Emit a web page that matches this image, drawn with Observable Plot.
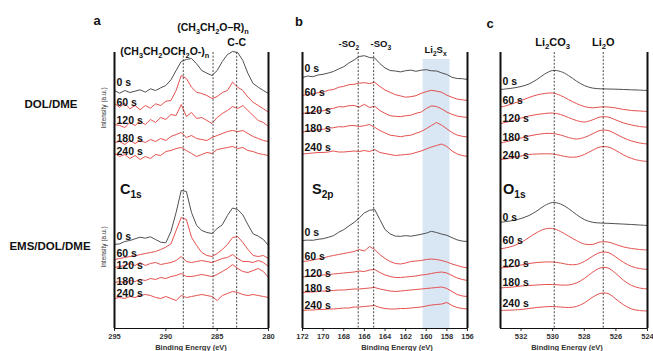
<!DOCTYPE html>
<html><head><meta charset="utf-8">
<script src="https://cdn.jsdelivr.net/npm/d3@7"></script>
<script src="https://cdn.jsdelivr.net/npm/@observablehq/plot@0.6"></script>
<style>
html,body{margin:0;padding:0;background:#fff;}
#fig{position:relative;width:653px;height:351px;overflow:hidden;background:#fff;}
</style></head><body><div id="fig"></div>
<script>
// ---------- data ----------
const times = ["0 s", "60 s", "120 s", "180 s", "240 s"];
const groups = ["DOL/DME", "EMS/DOL/DME"];

// C1s (panel a)
const energyA = [295,294.5,294,293.5,293,292.5,292,291.5,291,290.5,290,289.5,289,288.5,288,287.5,287,286.5,286,285.5,285,284.5,284,283.5,283,282.5,282,281.5,281,280.5,280];
const aDol0   = [240,237.3,240,238,239.3,240.7,238.3,241.7,240,242.7,245,250.7,260,269,271,272,266.7,260,257.3,255,260,269,276,279,278,270,257,247,243.3,240,237];
const aDol60  = [227,223.3,227.3,221.7,225,220.7,225,222.3,226.7,225,229.3,230,240,255,252,243.3,238.3,237,235,232,234,238,240,248.3,243.3,240,233.3,228.3,225,221.7,218.3];
const aDol120 = [206,205,203,208,205,209,206,211,208,213,211,216,215,226,214,218,212,213,210,207,213,217,220,224,222,225,220,215,210,208,204];
const aDol180 = [188,189,186,190,187,190,188,191,189,192,190,194,196,198,193,195,192,191,190,193,195,197,199,200,199,200,197,194,192,190,189];
const aDol240 = [177,174,176,172,175,171,174,172,176,175,179,180,182,183,180,177,174,176,178,177,181,182,183,184,182,183,180,179,177,176,175];
const aEms0   = [86,86.7,89,90,91.7,93.3,92.3,93.7,91,88.3,87.7,99,118,140,139,118,105,100,98,97,102,105.7,115,122.5,121,115.7,105.7,96.7,94.3,91,85];
const aEms60  = [71,72,73,74,74.5,76,77,78,79,81,83.3,86.7,100,113,111,93.3,85,78,75,74,77,81,86,93,94,88,81,75,74,75,72];
const aEms120 = [63,64,65,67,65,68,65,67,68,66,67,68,70,74,69,68,69,70,69,68,70,72,73,76,72,69,69,68,70,68,64];
const aEms180 = [48,49,48,50,49,51,50,52,51,53,52,54,55,57,54,54,55,56,55,54,56,59,62,66,62,59,58,60,62,59,53];
const aEms240 = [32,33,32,34,33,35,36,35,33,32,34,32,30,35,33,34,35,36,35,34,30,35,37,39,38,36,35,36,35,34,33];
const aTicks = [295, 290, 285, 280];
const aDashed = [288.3, 285.4, 283.1];
const aPeakE = [290.1, 285.4, 283.1];
const aPeakText = ["(CH_3CH_2OCH_2O-)_n", "(CH_3CH_2O–R)_n", "C-C"];

// S2p (panel b)
const energyB = [172,171.5,171,170.5,170,169.5,169,168.5,168,167.5,167,166.5,166,165.5,165,164.5,164,163.5,163,162.5,162,161.5,161,160.5,160,159.5,159,158.5,158,157.5,157,156.5,156];
const bDol0   = [253,254.5,253.8,255.5,256.2,257.5,259,261.5,263.8,267.5,270.5,274,274.8,273,272.5,267,262.5,260,259.5,258.6,259.8,260.4,259.2,260.3,260.8,259.7,259.5,257.6,256,253.2,252,251.8,251];
const bDol60  = [235,236.2,236.6,237.8,238.2,240.3,241,243.2,244.2,245.8,246.2,247.4,247.8,247,248.2,244,240.5,238.2,235.8,234.6,233.3,233.8,234.8,237.2,238.8,240.2,239.4,238.2,235.3,233.2,231.4,230.7,230];
const bDol120 = [217,217.8,218.2,219.8,219.6,221.3,222.2,223.8,223.6,224.8,225,223.5,226.2,223,224.3,220,217.2,214.8,214.2,213.8,214.7,215.3,217.2,218.4,222,224.6,224,221.6,218.4,216.2,214.4,213.6,213];
const bDol180 = [198.5,199.3,199.8,200.8,201.2,202.3,202.8,203.8,203.6,204.8,205,204,204.8,206,203.2,200,197.6,195.3,194.6,193.8,194.7,195.3,197.2,199,201.8,205,208,205.3,201.6,198,195.4,194.2,193.5];
const bDol240 = [176.5,177,177.5,178,178,178.5,179.5,178.5,178.5,179,179.5,179,180,179,181,178,177,176,175,175.5,176,176.5,178,179.5,181.5,183.5,185,186.5,184,179.5,176.5,175,174];
const bEms0   = [90,90.4,90.2,91.2,91.8,93.2,94.8,98.2,100.8,104.6,108,112.6,117.6,120.2,121,111,101,96.6,94.4,94.2,94.8,94.3,95.2,96.2,97.4,99.2,98,96.4,95.2,92.8,90.6,89.4,89];
const bEms60  = [69,69.5,70.5,71.5,72.5,74,75,76,77,78,79,81,79.5,84,81,76,72,69,67,66.5,67.5,69,69.5,70,71,71.5,71,70,68.5,66.5,65,63.5,62.5];
const bEms120 = [53.5,54,54.5,55,55.5,56,56.5,57,57.5,58,58.5,59.5,59,60.5,61,58,55.5,54,53,53,53.5,54,54.5,55.5,56,57,58,58.5,57.5,55,52.5,51,50];
const bEms180 = [38,38.5,38.5,39,39.5,39.5,40,40.5,40.5,41,41.5,41.5,42,42.5,43,41.5,40.5,39.5,39,39.5,40,40.5,41,41.5,42,42.5,43,43.5,42,39,36,34.5,34];
const bEms240 = [20,20.5,20.5,21,21,21.5,21.5,22,22.5,22.5,23.5,23.5,24,24.5,25,23,22,21.5,21.5,22,22,22.5,23,23.5,24.5,25.5,26,26.5,28,25,23,22,21.5];
const bTicks = [172,170,168,166,164,162,160,158,156];
const bDashed = [166.6, 165.1];
const bBand = [160.3, 157.7];
const bPeakE = [167.5, 164.4, 159.1];
const bPeakText = ["-SO_2", "-SO_3", "Li_2S_x"];

// O1s (panel c)
const energyC = [533.3,533,532.5,532,531.5,531,530.5,530,529.5,529,528.5,528,527.5,527,526.5,526,525.5,525,524.5,524];
const cDol0   = [241,241.5,242.5,244,246.5,251,256.5,260,259,255,249.5,245,242.5,241.7,241.5,241.3,241,240.7,240.4,240];
const cDol60  = [223.5,224.5,227,230,233,235.5,237,237.5,235,231,227,224,222.7,223.5,223.5,222.5,221,220,219.5,219];
const cDol120 = [207,208,210,212.5,214.5,216,217,217.5,216,213,210,208.5,210.5,213.5,213.5,210.5,207.5,205.5,204,203.3];
const cDol180 = [187.5,188.5,190.5,192.5,194.5,196,197,197,195.5,193,191.5,193,196.5,200,200,196.5,192.5,189.5,187.5,186.5];
const cDol240 = [171,171.5,173,174.5,176,176.5,176.7,176.5,175,173.5,173.5,176,180,183.5,183.5,180,175.5,172,170,169];
const cEms0   = [108.3,108.8,110,112,115,119.5,125,128,126.5,122,116,111,108.3,107.5,107.2,106.8,106.4,106,105.5,105];
const cEms60  = [81.7,82.5,84.5,88,93,98,101.5,102,99,94.5,90,86.5,86,88.5,88.5,86,83.5,82,81,80.5];
const cEms120 = [62.5,63,64,65.5,67,68,68.5,68.5,67.5,66,66,69,74,78,78,73.5,68,64,62,61];
const cEms180 = [42.5,43,43.5,44.5,45,45.5,46,46,45.5,45.5,47.5,52,58,62.5,62.5,57,50,45,42.5,41.5];
const cEms240 = [20,20.2,20.5,21,22,23,23.7,24,23.5,23,24,27.5,33,37,37,31.5,25.5,21.5,20,19.5];
const cTicks = [532, 530, 528, 526, 524];
const cDashed = [529.9, 526.8];
const cPeakE = [530.0, 526.8];
const cPeakText = ["Li_2CO_3", "Li_2O"];

// ---------- drawing ----------
const FONT = '"Liberation Sans", Arial, Helvetica, sans-serif';
const GRAY = "#505050", RED = "#e4514f";
const Y_MIN = 2, Y_MAX = 278;
const SVGNS = "http://www.w3.org/2000/svg";

function subify(el) {
  const s = el.textContent;
  if (!s.includes("_")) return;
  const segs = []; let cur = ""; let i = 0;
  while (i < s.length) {
    if (s[i] === "_") {
      if (cur) segs.push({t: cur, sub: false}); cur = "";
      let sub;
      if (s[i + 1] === "{") { const k = s.indexOf("}", i + 1); sub = s.slice(i + 2, k); i = k + 1; }
      else { sub = s[i + 1]; i += 2; }
      segs.push({t: sub, sub: true});
    } else { cur += s[i]; i++; }
  }
  if (cur) segs.push({t: cur, sub: false});
  el.textContent = "";
  let down = false;
  for (const g of segs) {
    const ts = document.createElementNS(SVGNS, "tspan");
    ts.textContent = g.t;
    if (g.sub) { ts.setAttribute("font-size", "70%"); if (!down) { ts.setAttribute("dy", "0.35em"); down = true; } }
    else if (down) { ts.setAttribute("dy", "-0.245em"); down = false; }
    el.appendChild(ts);
  }
}

function panel(cfg) {
  const {energy, dol, ems, labelDy, ticks, dashed, band, peakE, peakText, peakDy, peakSize, curve, left, width, mL, mR} = cfg;
  const series = [
    ...dol.map((v, i) => ({group: groups[0], time: times[i], values: v})),
    ...ems.map((v, i) => ({group: groups[1], time: times[i], values: v}))
  ];
  const data = series.flatMap(s => s.values.map((v, i) => ({E: energy[i], v, key: s.group + "|" + s.time, time: s.time})));
  const starts = series.map(s => ({E: energy[0], v: s.values[0], time: s.time}));
  const first = d => d.time === times[0];
  const marks = [];
  if (band) marks.push(Plot.rect([band], {x1: d => d[0], x2: d => d[1], fill: "#d9e6f4", insetTop: 7}));
  marks.push(
    Plot.line(data.filter(d => !first(d)), {x: "E", y: "v", z: "key", stroke: RED, strokeWidth: 1, curve}),
    Plot.line(data.filter(first), {x: "E", y: "v", z: "key", stroke: GRAY, strokeWidth: 1, curve}),
    Plot.ruleX(dashed, {stroke: "#1a1a1a", strokeWidth: 0.8, strokeDasharray: "2,1.6"}),
    Plot.ruleX([energy[0], energy[energy.length - 1]], {stroke: "#111", strokeWidth: 2}),
    Plot.ruleY([Y_MIN], {stroke: "#111", strokeWidth: 1.2}),
    ...starts.map((s, i) => Plot.text([s], {x: "E", y: "v", text: "time", textAnchor: "start", dx: 2, dy: labelDy[i], fontSize: 10.5, fontWeight: "bold", fill: "#111"})),
    ...peakText.map((t, i) => Plot.text([t], {x: () => peakE[i], text: d => d, frameAnchor: "top", dy: peakDy[i], fontSize: peakSize, fontWeight: "bold", fill: "#111"}))
  );
  const svg = Plot.plot({
    width, height: 351, marginLeft: mL, marginRight: mR, marginTop: 52, marginBottom: 23,
    x: {domain: [energy[0], energy[energy.length - 1]], ticks, tickSize: 3, tickPadding: 2, label: null, tickFormat: d => String(d)},
    y: {domain: [Y_MIN, Y_MAX], axis: null},
    style: {background: "transparent", overflow: "visible", fontFamily: FONT, fontSize: "7.5px", fontWeight: "bold", color: "#333"},
    marks
  });
  svg.style.position = "absolute";
  svg.style.left = left + "px";
  svg.style.top = "0px";
  svg.style.maxWidth = "none";
  document.getElementById("fig").appendChild(svg);
  svg.querySelectorAll("text").forEach(subify);
}

panel({energy: energyA, dol: [aDol0, aDol60, aDol120, aDol180, aDol240], ems: [aEms0, aEms60, aEms120, aEms180, aEms240],
  labelDy: [-8, -1, -4, -4, -2, -8, -6, -2, -1, -5],
  ticks: aTicks, dashed: aDashed, peakE: aPeakE, peakText: aPeakText, peakDy: [-5, -29, -14], peakSize: 10.5,
  curve: "linear", left: 100, width: 180, mL: 14, mR: 12});
panel({energy: energyB, dol: [bDol0, bDol60, bDol120, bDol180, bDol240], ems: [bEms0, bEms60, bEms120, bEms180, bEms240],
  labelDy: [-9, -3, -3, -3.5, -6.5, -8, -5, -3.5, -4, -5],
  ticks: bTicks, dashed: bDashed, band: bBand, peakE: bPeakE, peakText: bPeakText, peakDy: [-12, -12, -6], peakSize: 9.5,
  curve: "linear", left: 290, width: 190, mL: 12, mR: 13});
panel({energy: energyC, dol: [cDol0, cDol60, cDol120, cDol180, cDol240], ems: [cEms0, cEms60, cEms120, cEms180, cEms240],
  labelDy: [-8, -6.5, -5, -5.5, -4, -4.7, -8.3, -4.5, -5.5, -7],
  ticks: cTicks, dashed: cDashed, peakE: cPeakE, peakText: cPeakText, peakDy: [-14, -14], peakSize: 11,
  curve: "catmull-rom", left: 486, width: 167, mL: 14, mR: 6});

// ---------- annotations ----------
const overlay = d3.create("svg").attr("width", 653).attr("height", 351)
  .style("position", "absolute").style("left", "0px").style("top", "0px")
  .style("font-family", FONT).style("pointer-events", "none");
function note(s, x, y, o = {}) {
  const t = overlay.append("text").attr("x", x).attr("y", y)
    .attr("text-anchor", o.anchor || "middle").attr("font-size", o.size || 11)
    .attr("font-weight", o.weight || "bold").attr("fill", o.fill || "#111").text(s);
  if (o.rotate) t.attr("transform", `rotate(-90 ${x} ${y})`).attr("dominant-baseline", "middle");
  subify(t.node());
}
note("a", 97, 25, {size: 13});
note("b", 299, 26, {size: 13});
note("c", 490, 28, {size: 13});
note(groups[0], 51, 108, {size: 11.5});
note(groups[1], 50, 250, {size: 11.5});
note("Intensity (a.u.)", 104, 108, {size: 6.5, weight: "normal", fill: "#333", rotate: true});
note("Intensity (a.u.)", 104, 247, {size: 6.5, weight: "normal", fill: "#333", rotate: true});
note("C_{1s}", 120, 194, {size: 14.5, anchor: "start"});
note("S_{2p}", 312, 194, {size: 14.5, anchor: "start"});
note("O_{1s}", 503, 194, {size: 14.5, anchor: "start"});
note("Binding Energy (eV)", 191, 350, {size: 7.5, fill: "#333"});
note("Binding Energy (eV)", 397, 350, {size: 7.5, fill: "#333"});
note("Binding Energy (eV)", 567, 350, {size: 7.5, fill: "#333"});
document.getElementById("fig").appendChild(overlay.node());
</script></body></html>
